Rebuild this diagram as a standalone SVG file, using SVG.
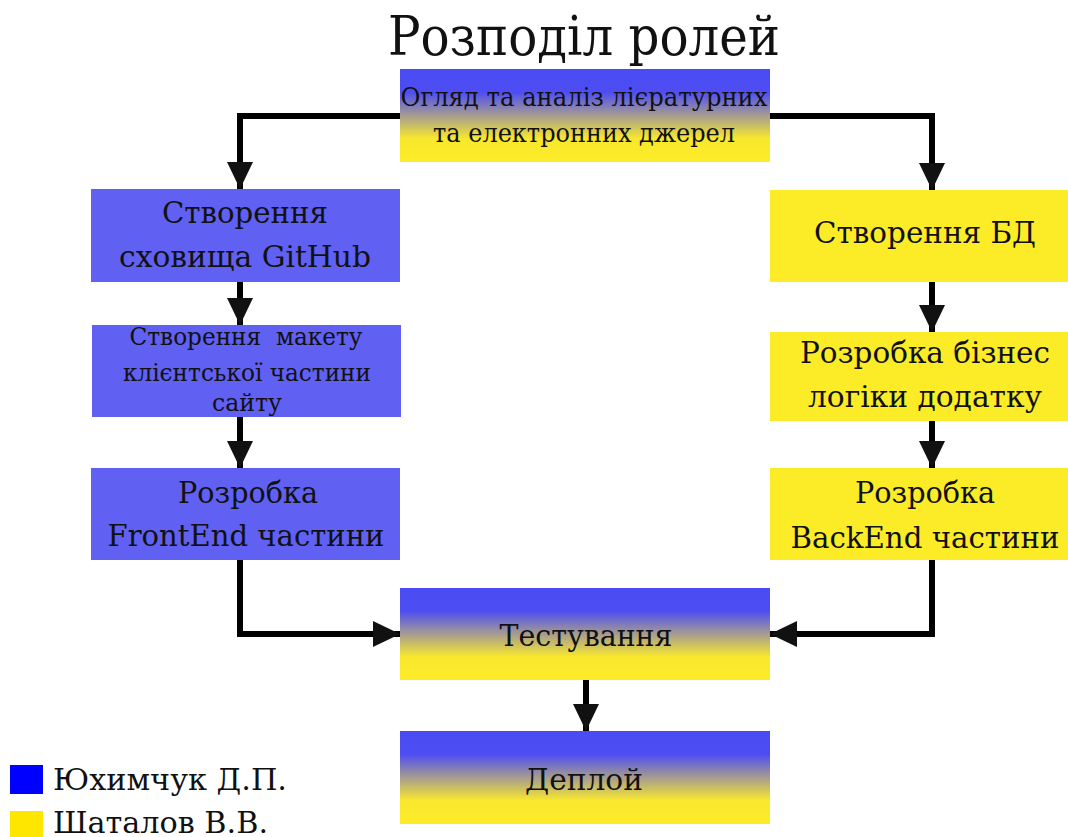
<svg xmlns="http://www.w3.org/2000/svg" width="1068" height="837" viewBox="0 0 1068 837">
<style>
text{font-family:"DejaVu Serif Condensed","DejaVu Serif",serif;fill:#111;text-anchor:middle}
.blue{fill:#6060F2}
.yellow{fill:#FCEC28}
.grad{fill:url(#g)}
.c{fill:none;stroke:#000;stroke-width:6;marker-end:url(#ah)}
</style>
<defs>
<linearGradient id="g" x1="0" y1="0" x2="0" y2="1">
<stop offset="0" stop-color="#4B4BF5"/>
<stop offset="0.25" stop-color="#4D4DF2"/>
<stop offset="0.5" stop-color="#A69C90"/>
<stop offset="0.75" stop-color="#F8E82E"/>
<stop offset="1" stop-color="#FCEC28"/>
</linearGradient>
<marker id="ah" markerUnits="userSpaceOnUse" markerWidth="28" markerHeight="28" viewBox="0 0 28 28" refX="27" refY="14" orient="auto">
<path d="M0,1 L27,14 L0,27 Z" fill="#111"/>
</marker>
</defs>
<text x="584" y="55" font-size="55" textLength="392" lengthAdjust="spacingAndGlyphs">Розподіл ролей</text>
<g id="connectors">
<path class="c" d="M400,116 H240 V189"/>
<path class="c" d="M770,116 H932 V190"/>
<path class="c" d="M240,282 V325"/>
<path class="c" d="M240,417 V468"/>
<path class="c" d="M932,282 V332"/>
<path class="c" d="M932,421 V468"/>
<path class="c" d="M240,560 V634 H400"/>
<path class="c" d="M932,560 V634 H770"/>
<path class="c" d="M586,680 V731"/>
</g>
<g id="n-review">
<rect class="grad" x="400" y="69" width="370" height="93"/>
<text x="584" y="106" font-size="26" textLength="367" lengthAdjust="spacingAndGlyphs">Огляд та аналіз лієратурних</text>
<text x="584" y="142" font-size="26" textLength="302" lengthAdjust="spacingAndGlyphs">та електронних джерел</text>
</g>
<g id="n-github">
<rect class="blue" x="91" y="189" width="309" height="93"/>
<text x="245" y="223" font-size="29" textLength="166" lengthAdjust="spacingAndGlyphs">Створення</text>
<text x="245" y="267" font-size="29" textLength="252" lengthAdjust="spacingAndGlyphs">сховища GitHub</text>
</g>
<g id="n-mockup">
<rect class="blue" x="92" y="325" width="309" height="92"/>
<text x="246" y="345" font-size="25" textLength="233" lengthAdjust="spacingAndGlyphs" xml:space="preserve">Створення  макету</text>
<text x="247" y="381" font-size="25" textLength="248" lengthAdjust="spacingAndGlyphs">клієнтської частини</text>
<text x="247" y="411" font-size="25" textLength="70" lengthAdjust="spacingAndGlyphs">сайту</text>
</g>
<g id="n-frontend">
<rect class="blue" x="91" y="468" width="309" height="92"/>
<text x="248" y="503" font-size="29" textLength="140" lengthAdjust="spacingAndGlyphs">Розробка</text>
<text x="246" y="546" font-size="29" textLength="277" lengthAdjust="spacingAndGlyphs">FrontEnd частини</text>
</g>
<g id="n-db">
<rect class="yellow" x="770" y="190" width="310" height="92"/>
<text x="925" y="243" font-size="29" textLength="222" lengthAdjust="spacingAndGlyphs">Створення БД</text>
</g>
<g id="n-logic">
<rect class="yellow" x="770" y="332" width="310" height="89"/>
<text x="925" y="363" font-size="29" textLength="250" lengthAdjust="spacingAndGlyphs">Розробка бізнес</text>
<text x="925" y="407" font-size="29" textLength="234" lengthAdjust="spacingAndGlyphs">логіки додатку</text>
</g>
<g id="n-backend">
<rect class="yellow" x="770" y="468" width="310" height="92"/>
<text x="925" y="503" font-size="29" textLength="140" lengthAdjust="spacingAndGlyphs">Розробка</text>
<text x="925" y="548" font-size="29" textLength="269" lengthAdjust="spacingAndGlyphs">BackEnd частини</text>
</g>
<g id="n-testing">
<rect class="grad" x="400" y="588" width="370" height="92"/>
<text x="586" y="646" font-size="29" textLength="173" lengthAdjust="spacingAndGlyphs">Тестування</text>
</g>
<g id="n-deploy">
<rect class="grad" x="400" y="731" width="370" height="93"/>
<text x="584" y="790" font-size="29" textLength="118" lengthAdjust="spacingAndGlyphs">Деплой</text>
</g>
<g id="legend">
<rect x="10" y="765" width="33" height="29" fill="#0000FF"/>
<text x="53" y="790" font-size="29" textLength="234" lengthAdjust="spacingAndGlyphs" style="text-anchor:start">Юхимчук Д.П.</text>
<rect x="10" y="811" width="33" height="29" fill="#FFE600"/>
<text x="53" y="833" font-size="29" textLength="215" lengthAdjust="spacingAndGlyphs" style="text-anchor:start">Шаталов В.В.</text>
</g>
</svg>
